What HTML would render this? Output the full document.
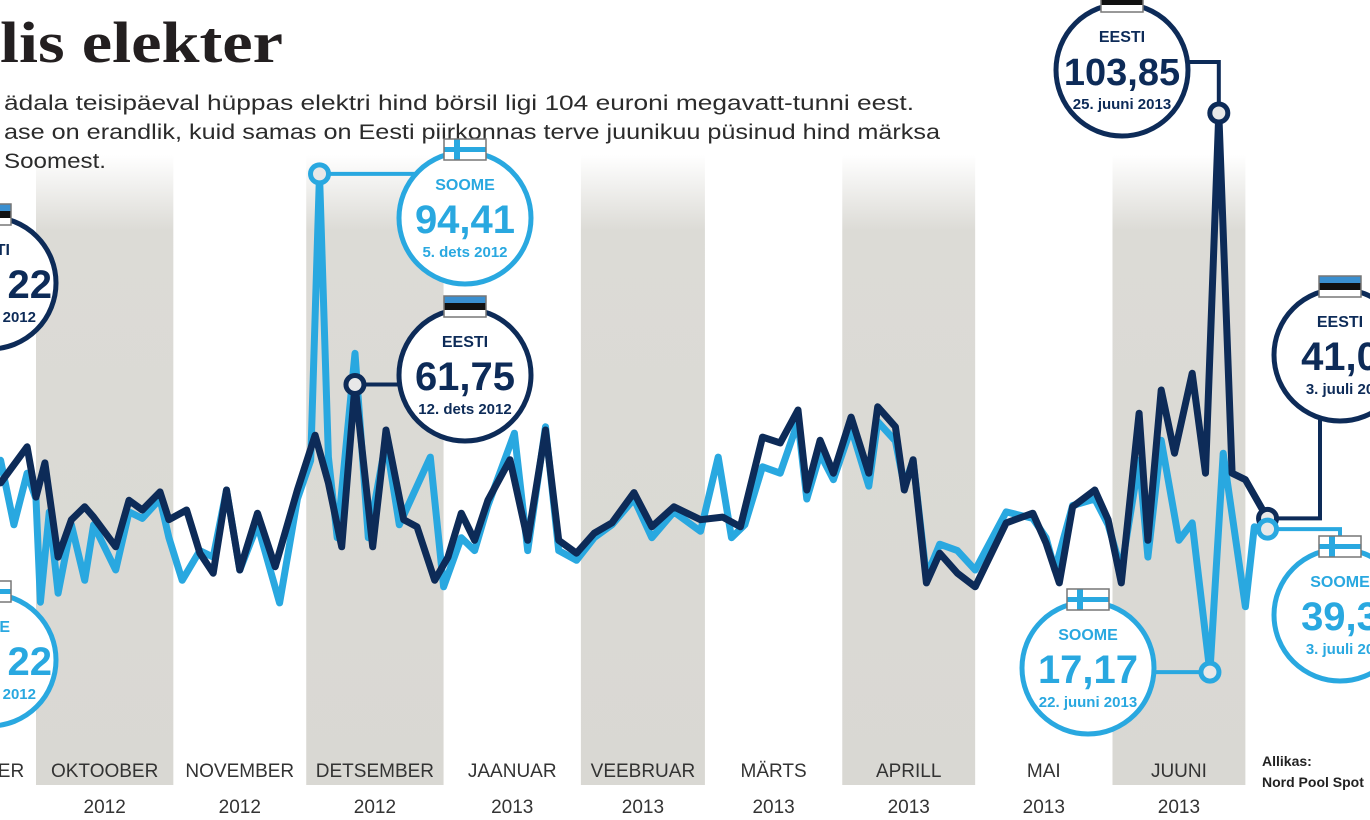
<!DOCTYPE html>
<html><head><meta charset="utf-8"><style>
html,body{margin:0;padding:0;background:#fff}
svg{display:block}
text{font-family:"Liberation Sans",sans-serif}
text.serif{font-family:"Liberation Serif",serif}
</style></head><body>
<svg id="chart" width="1370" height="820" viewBox="0 0 1370 820" xmlns="http://www.w3.org/2000/svg">
<defs>
<linearGradient id="bandGrad" x1="0" y1="0" x2="0" y2="1">
<stop offset="0" stop-color="#ffffff"/><stop offset="0.12" stop-color="#dcdbd6"/><stop offset="1" stop-color="#d9d8d3"/>
</linearGradient>
</defs>
<g id="bands"></g>
<text class="serif" x="0" y="62" font-weight="bold" font-size="58" fill="#231f20" textLength="283" lengthAdjust="spacingAndGlyphs">lis elekter</text>
<g font-size="21" fill="#2b2b2b">
<text x="4" y="110" textLength="910" lengthAdjust="spacingAndGlyphs">ädala teisipäeval hüppas elektri hind börsil ligi 104 euroni megavatt-tunni eest.</text>
<text x="4" y="139" textLength="936" lengthAdjust="spacingAndGlyphs">ase on erandlik, kuid samas on Eesti piirkonnas terve juunikuu püsinud hind märksa</text>
<text x="4" y="168" textLength="102" lengthAdjust="spacingAndGlyphs">Soomest.</text>
</g>
<g id="axis"></g>
<g id="series"></g>
<g id="callouts"></g>
<g font-size="14" font-weight="bold" fill="#222">
<text x="1262" y="766">Allikas:</text>
<text x="1262" y="787">Nord Pool Spot</text>
</g>
</svg>
<script>
const monthLabels=["ER","OKTOOBER","NOVEMBER","DETSEMBER","JAANUAR","VEEBRUAR","MÄRTS","APRILL","MAI","JUUNI"];
const yearLabels=["","2012","2012","2012","2013","2013","2013","2013","2013","2013"];
const monthStarts=[-30,0,31,61,92,123,151,182,212,243,273];
const eestiDays=[-8,-2,0,2,5,8,11,13,18,21,24,28,30,34,37,40,43,46,50,54,59,63,66,69,72,76,79,83,86,90,93,96,99,102,107,111,115,118,122,126,130,135,139,144,150,155,159,164,168,172,174,177,180,184,188,190,194,196,198,201,204,208,212,219,225,228,231,234,239,242,245,249,251,254,257,261,264,267,270,273,278];
const eestiValues=[46.5,52.1,44.3,49.6,35.0,40.8,42.8,41.2,36.6,43.8,42.3,45.1,40.8,42.3,35.6,32.5,45.4,33.0,41.8,33.5,45.4,53.9,46.5,36.6,61.75,36.6,54.7,40.8,39.7,31.4,35.0,41.8,37.6,43.8,50.1,37.6,54.7,37.6,35.6,38.7,40.3,45.0,39.7,42.8,40.8,41.2,39.7,53.6,52.7,57.8,45.4,53.1,48.0,56.7,48.0,58.3,55.2,45.4,50.1,31.0,35.6,32.5,30.4,40.3,41.8,37.2,31.0,42.8,45.4,40.8,31.0,57.3,37.6,60.9,51.1,63.5,48.0,103.85,48.0,47.0,41.0];
const soomeDays=[-8,-5,-2,0,1,3,5,8,11,13,18,21,24,28,30,33,37,40,43,46,50,55,59,62,64,66,68,72,75,79,82,86,89,92,96,99,102,108,111,115,118,122,126,130,135,139,144,150,154,157,160,164,168,172,174,177,180,184,188,190,194,196,198,201,204,208,212,219,225,228,230,234,239,242,245,249,251,254,258,261,265,268,273,275,278];
const soomeValues=[50,40,48,44,28,42,29.4,40,31.4,40,33,42,41,44,38,31.4,36,35,45.4,33,40,27.9,44,50,94.41,50.5,38,66.6,38,53,40,46,50.5,30.4,38,36,43,54.2,36,55.2,36,34.5,38,40,44,38,42,39,50.5,38,40,49,48,56,44,51,47,55,46,56,53,46,50,32,37,36,33,42,41,38,33,43,44,40,33,50,35,53.1,37.6,40.3,17.17,51.1,27.3,39.7,39.33];
const callouts=[
 {country:"SOOME",value:"94,41",date:"5. dets 2012",day:64,price:94.41,cx:465,cy:218,route:"h"},
 {country:"EESTI",value:"61,75",date:"12. dets 2012",day:72,price:61.75,cx:465,cy:375,route:"h"},
 {country:"EESTI",value:"103,85",date:"25. juuni 2013",day:267,price:103.85,cx:1122,cy:70,route:"up"},
 {country:"SOOME",value:"17,17",date:"22. juuni 2013",day:265,price:17.17,cx:1088,cy:668,route:"h"},
 {country:"EESTI",value:"41,0",date:"3. juuli 20",day:278,price:41.0,cx:1340,cy:355,route:"right-up"},
 {country:"SOOME",value:"39,3",date:"3. juuli 20",day:278,price:39.33,cx:1340,cy:615,route:"right-down"}
];
const leftStubs=[
 {country:"EESTI",value:"22",date:"2012",cx:-10,cy:283},
 {country:"SOOME",value:"22",date:"2012",cx:-10,cy:660}
];
const NS="http://www.w3.org/2000/svg";
const DARK="#0d2b58",LIGHT="#29a8e0";
function x(d){return 36+d*4.43;}
function y(v){return 113+(103.85-v)*6.45;}
function mk(tag,attrs,parent){const e=document.createElementNS(NS,tag);for(const k in attrs)e.setAttribute(k,attrs[k]);parent.appendChild(e);return e;}
const bands=document.getElementById('bands'),axis=document.getElementById('axis'),series=document.getElementById('series'),co=document.getElementById('callouts');
for(let i=0;i<monthLabels.length;i++){
 const x0=Math.max(0,x(monthStarts[i])),x1=x(monthStarts[i+1]);
 if(i%2===1){
  const r=mk('rect',{x:x0,y:155,width:x1-x0,height:630,fill:'url(#bandGrad)'},bands);
  
  
 }
 const cx=i===0?11:(x0+x1)/2;
 const t=mk('text',{x:cx,y:777,'text-anchor':'middle','font-size':19,fill:'#333'},axis);
 t.textContent=monthLabels[i];
 
 
 if(yearLabels[i]){
  const t2=mk('text',{x:cx,y:813,'text-anchor':'middle','font-size':19,fill:'#333'},axis);
  t2.textContent=yearLabels[i];
  
  
 }
}
function line(days,vals,color,name){
 const pts=days.map((d,i)=>x(d).toFixed(1)+','+y(vals[i]).toFixed(1)).join(' ');
 const p=mk('polyline',{points:pts,fill:'none',stroke:color,'stroke-width':7,'stroke-linejoin':'round','stroke-linecap':'round'},series);
 
 
}
line(soomeDays,soomeValues,LIGHT,'soome-line');
line(eestiDays,eestiValues,DARK,'eesti-line');
function flag(fx,fy,country,parent){
 const g=mk('g',{},parent);
 
 
 if(country==='EESTI'){
  mk('rect',{x:fx,y:fy,width:42,height:7,fill:'#3a8fd0'},g);
  mk('rect',{x:fx,y:fy+7,width:42,height:7,fill:'#111'},g);
  mk('rect',{x:fx,y:fy+14,width:42,height:7,fill:'#fff'},g);
 }else{
  mk('rect',{x:fx,y:fy,width:42,height:21,fill:'#fff'},g);
  mk('rect',{x:fx+10,y:fy,width:6,height:21,fill:LIGHT},g);
  mk('rect',{x:fx,y:fy+8,width:42,height:5,fill:LIGHT},g);
 }
 mk('rect',{x:fx,y:fy,width:42,height:21,fill:'none',stroke:'#777','stroke-width':1.5},g);
}
function bubble(c,col,parent,nm,stub){
 const g=mk('g',{},parent);
 
 
 mk('circle',{cx:c.cx,cy:c.cy,r:66,fill:'#fff',stroke:col,'stroke-width':5},g);
 flag(c.cx-21,c.cy-79,c.country,g);
 const anc=stub?'end':'middle';
 const t1=mk('text',{x:stub?c.cx+20:c.cx,y:c.cy-28,'text-anchor':anc,'font-size':16,'font-weight':'bold',fill:col},g);t1.textContent=c.country;
 const t2=mk('text',{x:stub?c.cx+62:c.cx,y:c.cy+15,'text-anchor':anc,'font-size':c.value.length>5?38:40,'font-weight':'bold',fill:col},g);t2.textContent=c.value;
 const t3=mk('text',{x:stub?c.cx+46:c.cx,y:c.cy+39,'text-anchor':anc,'font-size':15,'font-weight':'bold',fill:col},g);t3.textContent=c.date;
}
callouts.forEach(c=>{
 const col=c.country==='EESTI'?DARK:LIGHT;
 const mx=x(c.day),my=y(c.price);
 let d;
 if(c.route==='h') d=`M${mx},${my} H${c.cx}`;
 else if(c.route==='up') d=`M${c.cx},${c.cy-8} H${mx} V${my}`;
 else if(c.route==='right-up') d=`M${mx},${my} H${c.cx-20} V${c.cy}`;
 else d=`M${mx},${my} H${c.cx} V${c.cy}`;
 const p=mk('path',{d:d,fill:'none',stroke:col,'stroke-width':4},co);
 
 
 bubble(c,col,co,'callout-'+c.country.toLowerCase()+'-'+c.value.replace(',','-'),false);
 const m=mk('circle',{cx:mx,cy:my,r:9,fill:'#e8e8e8',stroke:col,'stroke-width':5},co);
 
 
});
leftStubs.forEach(c=>{
 const col=c.country==='EESTI'?DARK:LIGHT;
 bubble(c,col,co,'callout-left-'+c.country.toLowerCase(),true);
});
</script>
</body></html>
